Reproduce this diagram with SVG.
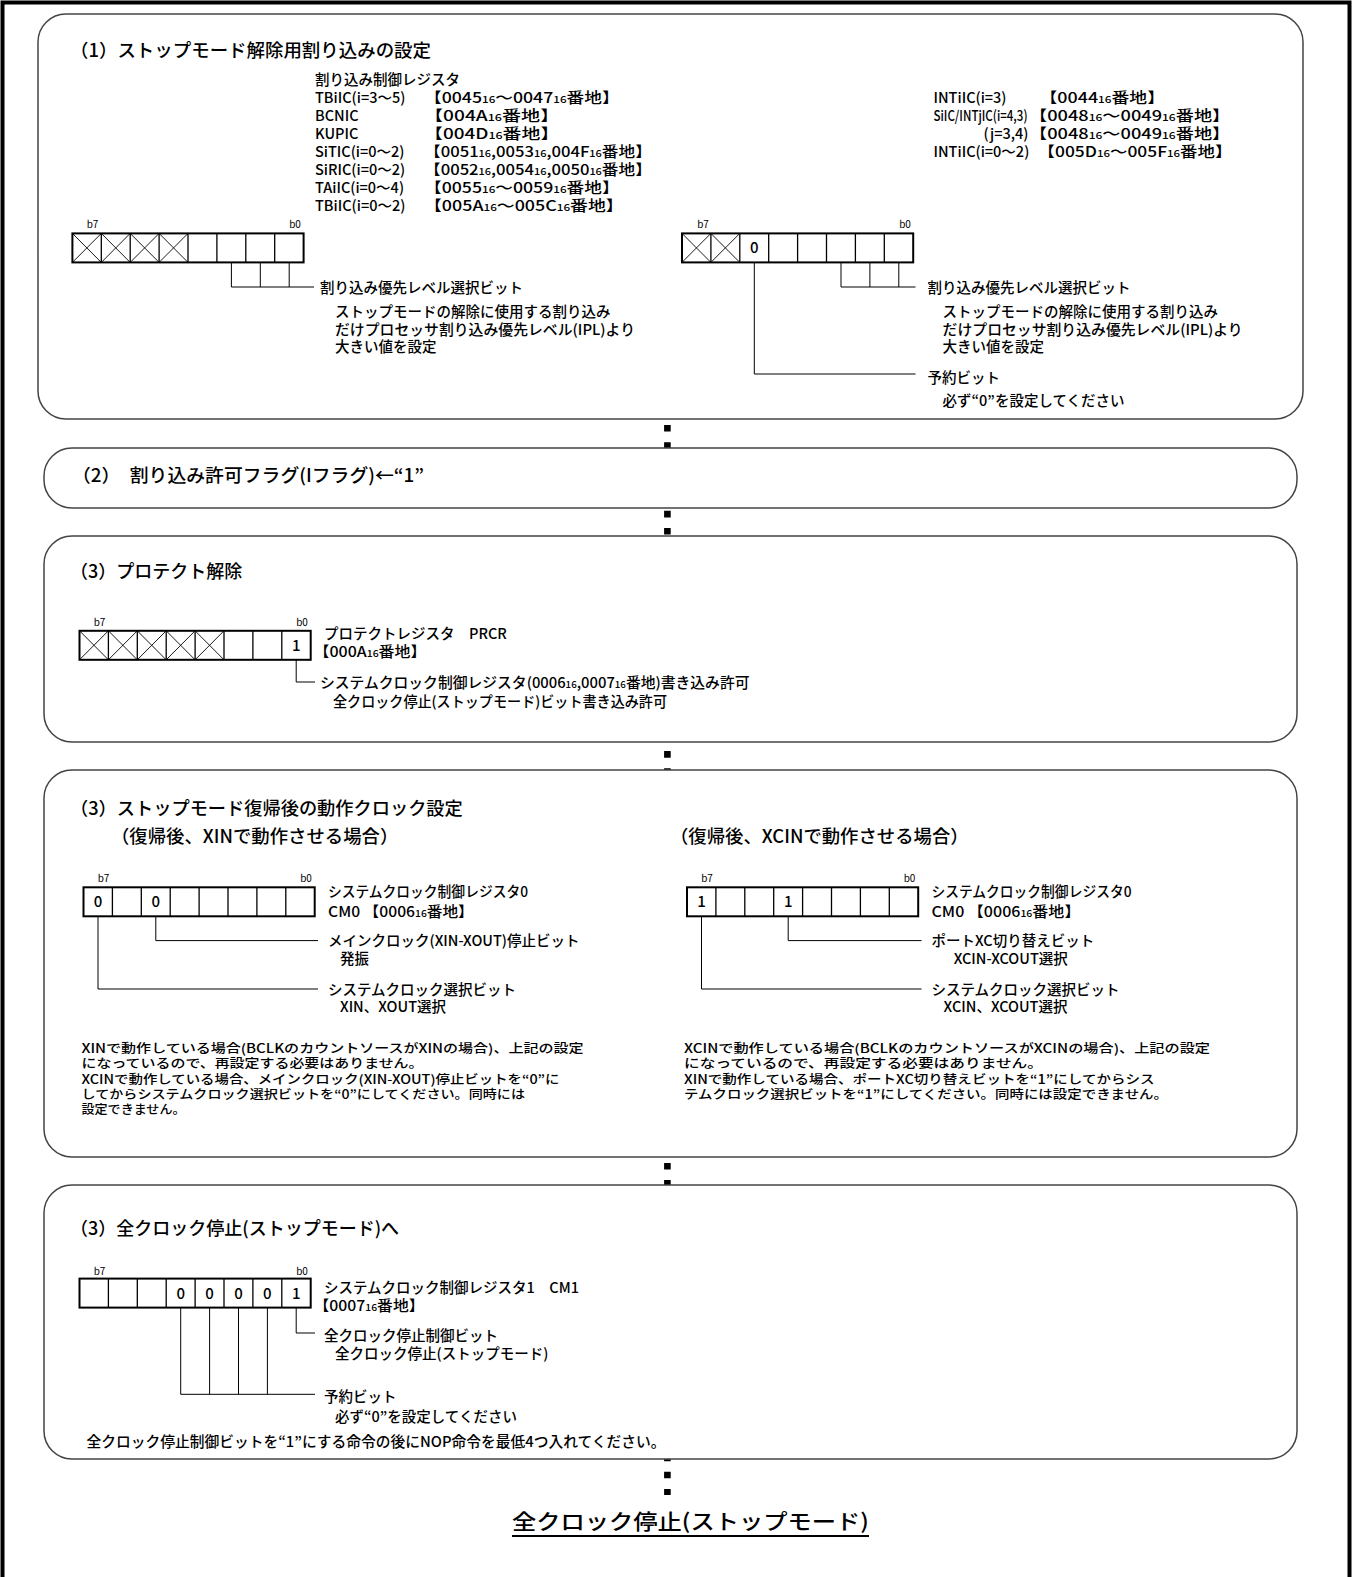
<svg xmlns="http://www.w3.org/2000/svg" width="1358" height="1577" viewBox="0 0 1358 1577">
<style>
text { font-family: "Noto Sans CJK JP", "Noto Sans", sans-serif; fill: #000; font-weight: 500; }
.t { font-size: 14.5px; }
.p { font-size: 12.5px; }
.h { font-size: 18px; }
.s { font-size: 9.5px; }
.b { font-size: 10px; text-anchor: middle; font-weight: 400; }
.n { font-size: 15px; text-anchor: middle; }
.box { fill: #fff; stroke: #444; stroke-width: 1.5; }
.ld { fill: none; stroke: #000; stroke-width: 1; }
.reg { fill: none; stroke: #000; stroke-width: 2; }
.div { fill: none; stroke: #000; stroke-width: 1.3; }
.xl { fill: none; stroke: #000; stroke-width: 0.9; }
.dots { fill: none; stroke: #000; stroke-width: 6.6; stroke-dasharray: 6.6 10.56; }
</style>
<defs>
<g id="reg">
<rect x="0" y="0" width="231.2" height="29" class="reg"/>
<path class="div" d="M28.9 0V29M57.8 0V29M86.7 0V29M115.6 0V29M144.5 0V29M173.4 0V29M202.3 0V29"/>
</g>
<path id="xc" class="xl" d="M0 0L28.9 29M28.9 0L0 29"/>
</defs>

<rect x="2.5" y="2.5" width="1347" height="1620" fill="none" stroke="#000" stroke-width="4"/>

<g id="connectors">
<line class="dots" x1="667.4" y1="425" x2="667.4" y2="1495"/>
</g>

<g id="step1">
<rect class="box" x="38" y="14" width="1265" height="405" rx="28"/>
<text class="h" x="70" y="57" textLength="361" lengthAdjust="spacingAndGlyphs">（1）ストップモード解除用割り込みの設定</text>
<text class="t" x="315" y="84.5">割り込み制御レジスタ</text>
<text class="t" x="315" y="102.6">TBiIC(i=3～5)</text>
<text class="t" x="424" y="102.6" textLength="195.6" lengthAdjust="spacingAndGlyphs">【0045<tspan class="s">16</tspan>～0047<tspan class="s">16</tspan>番地】</text>
<text class="t" x="315" y="120.7">BCNIC</text>
<text class="t" x="424" y="120.7" textLength="135.3" lengthAdjust="spacingAndGlyphs">【004A<tspan class="s">16</tspan>番地】</text>
<text class="t" x="315" y="138.8">KUPIC</text>
<text class="t" x="424" y="138.8" textLength="135.3" lengthAdjust="spacingAndGlyphs">【004D<tspan class="s">16</tspan>番地】</text>
<text class="t" x="315" y="156.9">SiTIC(i=0～2)</text>
<text class="t" x="424" y="156.9" textLength="227.8" lengthAdjust="spacingAndGlyphs">【0051<tspan class="s">16</tspan>,0053<tspan class="s">16</tspan>,004F<tspan class="s">16</tspan>番地】</text>
<text class="t" x="315" y="175">SiRIC(i=0～2)</text>
<text class="t" x="424" y="175" textLength="227.8" lengthAdjust="spacingAndGlyphs">【0052<tspan class="s">16</tspan>,0054<tspan class="s">16</tspan>,0050<tspan class="s">16</tspan>番地】</text>
<text class="t" x="315" y="193.1">TAiIC(i=0～4)</text>
<text class="t" x="424" y="193.1" textLength="195.6" lengthAdjust="spacingAndGlyphs">【0055<tspan class="s">16</tspan>～0059<tspan class="s">16</tspan>番地】</text>
<text class="t" x="315" y="211.2">TBiIC(i=0～2)</text>
<text class="t" x="424" y="211.2" textLength="199.7" lengthAdjust="spacingAndGlyphs">【005A<tspan class="s">16</tspan>～005C<tspan class="s">16</tspan>番地】</text>

<text class="t" x="933.5" y="102.6">INTiIC(i=3)</text>
<text class="t" x="1039.5" y="102.6" textLength="125.5" lengthAdjust="spacingAndGlyphs">【0044<tspan class="s">16</tspan>番地】</text>
<text class="t" x="933.5" y="120.7" textLength="94" lengthAdjust="spacingAndGlyphs">SiIC/INTjIC(i=4,3)</text>
<text class="t" x="1029" y="120.7" textLength="201.3" lengthAdjust="spacingAndGlyphs">【0048<tspan class="s">16</tspan>～0049<tspan class="s">16</tspan>番地】</text>
<text class="t" x="1028.5" y="138.8" text-anchor="end">(j=3,4)</text>
<text class="t" x="1029" y="138.8" textLength="201.3" lengthAdjust="spacingAndGlyphs">【0048<tspan class="s">16</tspan>～0049<tspan class="s">16</tspan>番地】</text>
<text class="t" x="933.5" y="156.9">INTiIC(i=0～2)</text>
<text class="t" x="1037.6" y="156.9" textLength="194.7" lengthAdjust="spacingAndGlyphs">【005D<tspan class="s">16</tspan>～005F<tspan class="s">16</tspan>番地】</text>

<text class="b" x="92.5" y="228">b7</text>
<text class="b" x="295" y="228">b0</text>
<use href="#reg" x="72.4" y="233.4"/>
<use href="#xc" x="72.4" y="233.4"/>
<use href="#xc" x="101.3" y="233.4"/>
<use href="#xc" x="130.2" y="233.4"/>
<use href="#xc" x="159.1" y="233.4"/>
<path class="ld" d="M231.4 262.4V287H314M260.3 262.4V287M289.2 262.4V287"/>
<text class="t" x="320" y="292.5">割り込み優先レベル選択ビット</text>
<text class="t" x="335" y="316.8">ストップモードの解除に使用する割り込み</text>
<text class="t" x="335" y="334.5" textLength="300" lengthAdjust="spacingAndGlyphs">だけプロセッサ割り込み優先レベル(IPL)より</text>
<text class="t" x="335" y="352.2">大きい値を設定</text>

<text class="b" x="703" y="228">b7</text>
<text class="b" x="905" y="228">b0</text>
<use href="#reg" x="682" y="233.4"/>
<use href="#xc" x="682" y="233.4"/>
<use href="#xc" x="710.9" y="233.4"/>
<text class="n" x="754.3" y="253.4">0</text>
<path class="ld" d="M841 262.4V287H915.5M869.9 262.4V287M898.8 262.4V287M754.3 262.4V374H915.5"/>
<text class="t" x="927.5" y="292.5">割り込み優先レベル選択ビット</text>
<text class="t" x="942.6" y="316.8">ストップモードの解除に使用する割り込み</text>
<text class="t" x="942.6" y="334.5" textLength="300" lengthAdjust="spacingAndGlyphs">だけプロセッサ割り込み優先レベル(IPL)より</text>
<text class="t" x="942.6" y="352.2">大きい値を設定</text>
<text class="t" x="927.5" y="383">予約ビット</text>
<text class="t" x="942.6" y="405.5">必ず“0”を設定してください</text>
</g>

<g id="step2">
<rect class="box" x="44" y="448" width="1253" height="60" rx="28"/>
<text class="h" x="72" y="482" textLength="352" lengthAdjust="spacingAndGlyphs">（2）　割り込み許可フラグ(Iフラグ)←“1”</text>
</g>

<g id="step3">
<rect class="box" x="44" y="536" width="1253" height="206" rx="28"/>
<text class="h" x="70" y="578">（3）プロテクト解除</text>
<text class="b" x="99.5" y="626">b7</text>
<text class="b" x="302" y="626">b0</text>
<use href="#reg" x="79.5" y="630.8"/>
<use href="#xc" x="79.5" y="630.8"/>
<use href="#xc" x="108.4" y="630.8"/>
<use href="#xc" x="137.3" y="630.8"/>
<use href="#xc" x="166.2" y="630.8"/>
<use href="#xc" x="195.1" y="630.8"/>
<text class="n" x="296.2" y="650.8">1</text>
<text class="t" x="324" y="639.4">プロテクトレジスタ　PRCR</text>
<text class="t" x="313.5" y="657.2" textLength="113" lengthAdjust="spacingAndGlyphs">【000A<tspan class="s">16</tspan>番地】</text>
<path class="ld" d="M296.2 659.8V682H315"/>
<text class="t" x="320" y="688" textLength="429.5" lengthAdjust="spacingAndGlyphs">システムクロック制御レジスタ(0006<tspan class="s">16</tspan>,0007<tspan class="s">16</tspan>番地)書き込み許可</text>
<text class="t" x="333" y="707" textLength="334" lengthAdjust="spacingAndGlyphs">全クロック停止(ストップモード)ビット書き込み許可</text>
</g>

<g id="step4">
<rect class="box" x="44" y="770" width="1253" height="387" rx="28"/>
<text class="h" x="70" y="815" textLength="392.8" lengthAdjust="spacingAndGlyphs">（3）ストップモード復帰後の動作クロック設定</text>
<text class="h" x="111" y="843" textLength="287.3" lengthAdjust="spacingAndGlyphs">（復帰後、XINで動作させる場合）</text>
<text class="h" x="670" y="843" textLength="298.7" lengthAdjust="spacingAndGlyphs">（復帰後、XCINで動作させる場合）</text>

<text class="b" x="103.5" y="882">b7</text>
<text class="b" x="306" y="882">b0</text>
<use href="#reg" x="83.5" y="887.3"/>
<text class="n" x="98" y="907.3">0</text>
<text class="n" x="155.8" y="907.3">0</text>
<text class="t" x="328" y="897.3" textLength="200" lengthAdjust="spacingAndGlyphs">システムクロック制御レジスタ0</text>
<text class="t" x="328" y="917.4" textLength="145.8" lengthAdjust="spacingAndGlyphs">CM0 【0006<tspan class="s">16</tspan>番地】</text>
<path class="ld" d="M155.8 916.3V940.6H318M98 916.3V989H318"/>
<text class="t" x="328" y="946.2">メインクロック(XIN-XOUT)停止ビット</text>
<text class="t" x="340" y="964">発振</text>
<text class="t" x="328" y="994.5">システムクロック選択ビット</text>
<text class="t" x="340" y="1012.3">XIN、XOUT選択</text>
<text class="p" x="81.5" y="1053.3" textLength="502" lengthAdjust="spacingAndGlyphs">XINで動作している場合(BCLKのカウントソースがXINの場合)、上記の設定</text>
<text class="p" x="81.5" y="1068.4" textLength="342" lengthAdjust="spacingAndGlyphs">になっているので、再設定する必要はありません。</text>
<text class="p" x="81.5" y="1083.5" textLength="478" lengthAdjust="spacingAndGlyphs">XCINで動作している場合、メインクロック(XIN-XOUT)停止ビットを“0”に</text>
<text class="p" x="81.5" y="1098.6" textLength="443.5" lengthAdjust="spacingAndGlyphs">してからシステムクロック選択ビットを“0”にしてください。同時には</text>
<text class="p" x="81.5" y="1113.7" textLength="104" lengthAdjust="spacingAndGlyphs">設定できません。</text>

<text class="b" x="707" y="882">b7</text>
<text class="b" x="909.5" y="882">b0</text>
<use href="#reg" x="687" y="887.3"/>
<text class="n" x="701.5" y="907.3">1</text>
<text class="n" x="788.2" y="907.3">1</text>
<text class="t" x="931.5" y="897.3" textLength="200" lengthAdjust="spacingAndGlyphs">システムクロック制御レジスタ0</text>
<text class="t" x="931.5" y="917.4" textLength="148.9" lengthAdjust="spacingAndGlyphs">CM0 【0006<tspan class="s">16</tspan>番地】</text>
<path class="ld" d="M788.2 916.3V940.6H921.5M701.5 916.3V989H921.5"/>
<text class="t" x="931.5" y="946.2">ポートXC切り替えビット</text>
<text class="t" x="953.7" y="964">XCIN-XCOUT選択</text>
<text class="t" x="931.5" y="994.5">システムクロック選択ビット</text>
<text class="t" x="943.6" y="1012.3">XCIN、XCOUT選択</text>
<text class="p" x="684" y="1053.3" textLength="526" lengthAdjust="spacingAndGlyphs">XCINで動作している場合(BCLKのカウントソースがXCINの場合)、上記の設定</text>
<text class="p" x="684" y="1068.4" textLength="359" lengthAdjust="spacingAndGlyphs">になっているので、再設定する必要はありません。</text>
<text class="p" x="684" y="1083.5" textLength="470.5" lengthAdjust="spacingAndGlyphs">XINで動作している場合、ポートXC切り替えビットを“1”にしてからシス</text>
<text class="p" x="684" y="1098.6" textLength="484" lengthAdjust="spacingAndGlyphs">テムクロック選択ビットを“1”にしてください。同時には設定できません。</text>
</g>

<g id="step5">
<rect class="box" x="44" y="1185" width="1253" height="274" rx="28"/>
<text class="h" x="70" y="1235">（3）全クロック停止(ストップモード)へ</text>
<text class="b" x="99.5" y="1275">b7</text>
<text class="b" x="302" y="1275">b0</text>
<use href="#reg" x="79.5" y="1278.6"/>
<text class="n" x="180.7" y="1298.6">0</text>
<text class="n" x="209.6" y="1298.6">0</text>
<text class="n" x="238.5" y="1298.6">0</text>
<text class="n" x="267.4" y="1298.6">0</text>
<text class="n" x="296.2" y="1298.6">1</text>
<text class="t" x="324" y="1292.7">システムクロック制御レジスタ1　CM1</text>
<text class="t" x="313.5" y="1310.8" textLength="111" lengthAdjust="spacingAndGlyphs">【0007<tspan class="s">16</tspan>番地】</text>
<path class="ld" d="M296.2 1307.6V1333H315M180.7 1307.6V1394.3H315M209.6 1307.6V1394.3M238.5 1307.6V1394.3M267.4 1307.6V1394.3"/>
<text class="t" x="324" y="1340.7">全クロック停止制御ビット</text>
<text class="t" x="335" y="1359">全クロック停止(ストップモード)</text>
<text class="t" x="324" y="1402">予約ビット</text>
<text class="t" x="335" y="1421.5">必ず“0”を設定してください</text>
<text class="t" x="86.5" y="1446.6" textLength="579" lengthAdjust="spacingAndGlyphs">全クロック停止制御ビットを“1”にする命令の後にNOP命令を最低4つ入れてください。</text>
</g>

<g id="end">
<text x="512" y="1529" font-size="21" textLength="357" lengthAdjust="spacingAndGlyphs">全クロック停止(ストップモード)</text>
<path d="M512 1536H869" stroke="#000" stroke-width="2" fill="none"/>
</g>
</svg>
